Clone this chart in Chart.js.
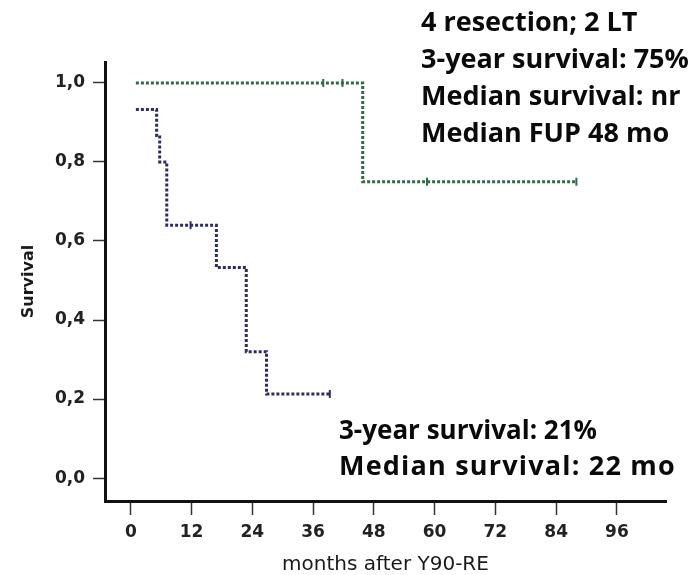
<!DOCTYPE html>
<html>
<head>
<meta charset="utf-8">
<script src="https://cdn.jsdelivr.net/npm/chart.js@4"></script>
<style>
  html, body { margin: 0; padding: 0; background: #fff; }
  #km { display: block; }
</style>
</head>
<body>
<canvas id="km" width="695" height="575"></canvas>
<script>
// Kaplan-Meier steps, time in months after Y90-RE
const resectedMonths = [1, 45.8, 88];
const resectedSurvival = [1.0, 0.75, 0.75];
const resectedCensorMonths = [38, 41.8, 58.5, 88];
const resectedCensorSurvival = [1.0, 1.0, 0.75, 0.75];

const otherMonths = [1, 5.1, 5.7, 7.1, 16.9, 22.8, 26.8, 39.3];
const otherSurvival = [0.933, 0.867, 0.8, 0.64, 0.533, 0.32, 0.213, 0.213];
const otherCensorMonths = [11.8, 39.3];
const otherCensorSurvival = [0.64, 0.213];

const xTicks = [0, 12, 24, 36, 48, 60, 72, 84, 96];
const yTicks = [0, 0.2, 0.4, 0.6, 0.8, 1.0];

const topNotes = ['4 resection; 2 LT', '3-year survival: 75%', 'Median survival: nr', 'Median FUP 48 mo'];
const bottomNotes = ['3-year survival: 21%', 'Median survival: 22 mo'];

const GREEN = '#2f6b47';
const NAVY = '#2c2d68';

const toPoints = (xs, ys) => xs.map((x, i) => ({ x, y: ys[i] }));

const notesPlugin = {
  id: 'notes',
  afterDraw(chart) {
    const ctx = chart.ctx;
    ctx.save();
    ctx.fillStyle = '#0a0a0a';
    ctx.textAlign = 'left';
    ctx.textBaseline = 'alphabetic';
    ctx.font = '700 27px "Open Sans"';
    topNotes.forEach((t, i) => ctx.fillText(t, 421, 31 + i * 37));
    // lower block: first line a touch tighter, second a touch looser
    ctx.fillText(bottomNotes[0], 339, 439, 258);
    ctx.letterSpacing = '1.2px';
    ctx.fillText(bottomNotes[1], 339, 475);
    ctx.restore();
  }
};

const tickFont = { family: 'DejaVu Sans', size: 17, weight: 'bold' };

new Chart(document.getElementById('km'), {
  type: 'line',
  data: {
    datasets: [
      {
        data: toPoints(resectedMonths, resectedSurvival),
        borderColor: GREEN,
        borderWidth: 3,
        borderDash: [3, 2],
        stepped: true,
        pointRadius: 0,
        fill: false,
      },
      {
        data: toPoints(otherMonths, otherSurvival),
        borderColor: NAVY,
        borderWidth: 3,
        borderDash: [3, 2],
        stepped: true,
        pointRadius: 0,
        fill: false,
      },
      {
        type: 'scatter',
        data: toPoints(resectedCensorMonths, resectedCensorSurvival),
        showLine: false,
        pointStyle: 'line',
        rotation: 90,
        pointRadius: 4,
        borderWidth: 2,
        borderColor: GREEN,
      },
      {
        type: 'scatter',
        data: toPoints(otherCensorMonths, otherCensorSurvival),
        showLine: false,
        pointStyle: 'line',
        rotation: 90,
        pointRadius: 4,
        borderWidth: 2,
        borderColor: NAVY,
      },
    ],
  },
  options: {
    responsive: false,
    animation: false,
    layout: { padding: { top: 62, right: 29, left: 0, bottom: 0 } },
    plugins: {
      legend: { display: false },
      tooltip: { enabled: false },
    },
    scales: {
      x: {
        type: 'linear',
        min: -5.1,
        max: 105.7,
        afterBuildTicks: (axis) => { axis.ticks = xTicks.map(v => ({ value: v })); },
        afterFit: (scale) => { scale.height = 74; },
        grid: {
          drawOnChartArea: false,
          drawTicks: true,
          tickLength: 14,
          tickWidth: 1.5,
          tickColor: '#333',
        },
        border: { display: true, width: 3, color: '#111' },
        ticks: {
          autoSkip: false,
          maxRotation: 0,
          padding: 7,
          color: '#222',
          font: tickFont,
        },
        title: {
          display: true,
          text: 'months after Y90-RE',
          color: '#1a1a1a',
          font: { family: 'DejaVu Sans', size: 20, lineHeight: 1 },
          padding: 0,
        },
      },
      y: {
        min: -0.058,
        max: 1.053,
        afterBuildTicks: (axis) => { axis.ticks = yTicks.map(v => ({ value: v })); },
        afterFit: (scale) => { scale.width = 105; },
        grid: {
          drawOnChartArea: false,
          drawTicks: true,
          tickLength: 12,
          tickWidth: 1.5,
          tickColor: '#333',
        },
        border: { display: true, width: 3, color: '#111' },
        ticks: {
          padding: 8,
          color: '#222',
          font: tickFont,
          callback: (v) => v.toFixed(1).replace('.', ','),
        },
        title: {
          display: true,
          text: 'Survival',
          color: '#1a1a1a',
          font: { family: 'DejaVu Sans', size: 16, weight: 'bold', lineHeight: 1 },
          padding: { top: 21, bottom: 0 },
        },
      },
    },
  },
  plugins: [notesPlugin],
});
</script>
</body>
</html>
